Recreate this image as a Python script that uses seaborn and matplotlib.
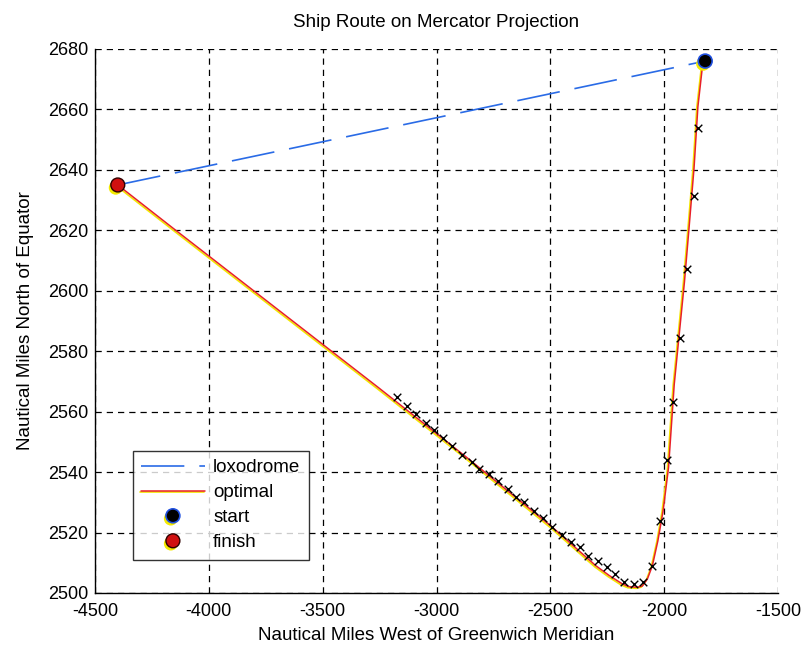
import matplotlib
matplotlib.use("Agg")
import matplotlib.pyplot as plt
import matplotlib.patheffects as pe
import numpy as np
import pandas as pd
import seaborn as sns

# Route end points (nautical miles west of Greenwich, north of equator)
start_x, start_y = -1820, 2676
finish_x, finish_y = -4400, 2635

# Rhumb line (loxodrome) between the two ports
loxodrome_x = [finish_x, start_x]
loxodrome_y = [finish_y, start_y]

# Optimal (time-minimising) route
optimal_x = [-4400, -4154, -3256, -2870, -2495, -2300, -2242, -2184, -2155, -2118,
             -2096, -2074, -2052, -2028, -2005, -1981, -1956, -1911, -1891, -1869,
             -1852, -1833, -1820]
optimal_y = [2635, 2620.5, 2568, 2545, 2522, 2509, 2505.8, 2503, 2502.1, 2501.9,
             2502.3, 2504.6, 2509, 2517.2, 2527.1, 2541.5, 2569, 2603, 2620.7, 2640.6,
             2660.9, 2673.6, 2676]

# Waypoints computed along the route
waypoint_x = [-3173, -3130, -3089, -3048, -3012, -2972, -2931, -2890, -2846, -2814,
              -2770, -2730, -2688, -2650, -2614, -2572, -2531, -2491, -2449, -2411,
              -2372, -2333, -2292, -2253, -2216, -2177, -2133, -2092, -2055, -2020,
              -1989, -1960, -1931, -1900, -1871, -1853]
waypoint_y = [2564.9, 2561.8, 2559.3, 2556.4, 2553.9, 2551.3, 2548.6, 2545.8, 2543.3, 2541.1,
              2539.3, 2536.9, 2534.3, 2531.9, 2530.2, 2527.2, 2524.7, 2521.9, 2519.3, 2516.9,
              2515.2, 2512.4, 2510.5, 2508.5, 2506.3, 2503.5, 2502.9, 2503.6, 2509.0, 2523.8,
              2544.0, 2563.1, 2584.5, 2607.3, 2631.5, 2653.8]

x_ticks = [-4500, -4000, -3500, -3000, -2500, -2000, -1500]
y_ticks = [2500, 2520, 2540, 2560, 2580, 2600, 2620, 2640, 2660, 2680]

sns.set_style("white")
plt.rcParams["font.family"] = ["Liberation Sans", "DejaVu Sans"]
plt.rcParams["axes.unicode_minus"] = False
plt.rcParams["text.color"] = "black"
plt.rcParams["axes.labelcolor"] = "black"

fig = plt.figure(figsize=(8.06, 6.47), dpi=100)
ax = fig.add_axes([0.1179, 0.0835, 0.8474, 0.8408])

lox = pd.DataFrame({"x": loxodrome_x, "y": loxodrome_y})
opt = pd.DataFrame({"x": optimal_x, "y": optimal_y})
way = pd.DataFrame({"x": waypoint_x, "y": waypoint_y})

sns.lineplot(data=lox, x="x", y="y", sort=False, ax=ax, color="#2a6be6",
             linewidth=1.2, linestyle=(0, (26, 9)), label="loxodrome")
sns.lineplot(data=opt, x="x", y="y", sort=False, ax=ax, color="#e8202a",
             linewidth=1.1, label="optimal",
             path_effects=[pe.SimpleLineShadow(offset=(-0.8, -0.8), shadow_color="#f2e600",
                                               alpha=1.0, linewidth=1.2),
                           pe.Normal()])
sns.scatterplot(data=way, x="x", y="y", ax=ax, marker="x", color="black",
                s=30, linewidth=1.0, zorder=4)

ax.plot([start_x], [start_y], linestyle="none", marker="o", markersize=10,
        markerfacecolor="black", markeredgecolor="#2050e0", markeredgewidth=1.2,
        label="start", zorder=5,
        path_effects=[pe.SimplePatchShadow(offset=(-1.5, -2), shadow_rgbFace="#f4ea00",
                                           alpha=1.0), pe.Normal()])
ax.plot([finish_x], [finish_y], linestyle="none", marker="o", markersize=10,
        markerfacecolor="#d01010", markeredgecolor="#300000", markeredgewidth=1.0,
        label="finish", zorder=5,
        path_effects=[pe.SimplePatchShadow(offset=(-1.5, -2), shadow_rgbFace="#f4ea00",
                                           alpha=1.0), pe.Normal()])

ax.set_xlim(-4500, -1500)
ax.set_ylim(2500, 2680)
ax.set_xticks(x_ticks)
ax.set_yticks(y_ticks)
ax.tick_params(direction="in", length=4, labelsize=13, colors="black")
ax.tick_params(axis="x", pad=7)
ax.tick_params(axis="y", pad=5)

ax.grid(True, color="black", linestyle=(0, (5, 4)), linewidth=0.9)
for side in ("top", "right"):
    ax.spines[side].set_visible(False)
for side in ("left", "bottom"):
    ax.spines[side].set_color("black")
    ax.spines[side].set_linewidth(1.0)

ax.set_title("Ship Route on Mercator Projection", fontsize=13.5, pad=16)
ax.set_xlabel("Nautical Miles West of Greenwich Meridian", fontsize=13.5, labelpad=5)
ax.set_ylabel("Nautical Miles North of Equator", fontsize=13.5, labelpad=10)

leg = ax.legend(loc="lower left", bbox_to_anchor=(0.055, 0.061), borderaxespad=0,
                fontsize=13.5, frameon=True, fancybox=False, edgecolor="black",
                handlelength=3.4, labelspacing=0.42, borderpad=0.45, handletextpad=0.45)
leg.get_frame().set_linewidth(1.0)

fig.savefig("out.png", dpi=100, facecolor="white")
